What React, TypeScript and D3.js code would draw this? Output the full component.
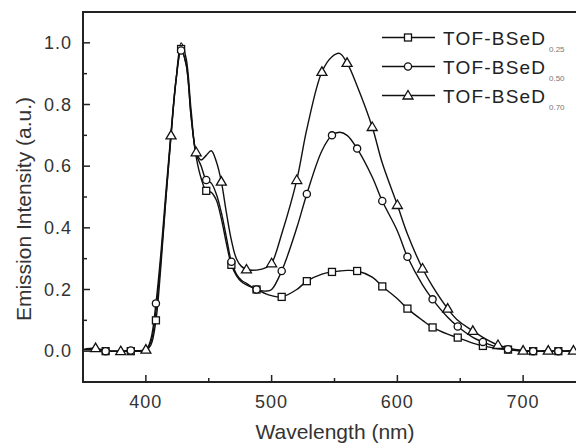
import * as d3 from "d3";

// wavelength grid (nm) shared by the three spectra
const wavelengths = [350, 360, 368, 380, 388, 400, 404, 408, 412, 416, 420, 424, 428, 432, 436, 440, 444, 448, 452, 456, 460, 464, 468, 472, 476, 480, 488, 496, 500, 508, 520, 528, 540, 548, 554, 560, 568, 580, 588, 600, 608, 620, 628, 640, 648, 660, 668, 680, 688, 700, 708, 720, 728, 740, 748, 755];

const s025 = [0.005, 0.005, 0, 0, 0, 0.002, 0.02, 0.10, 0.28, 0.50, 0.70, 0.88, 0.98, 0.93, 0.76, 0.63, 0.56, 0.52, 0.515, 0.49, 0.43, 0.35, 0.28, 0.245, 0.225, 0.215, 0.20, 0.185, 0.18, 0.176, 0.20, 0.227, 0.25, 0.257, 0.26, 0.262, 0.26, 0.24, 0.21, 0.17, 0.138, 0.10, 0.077, 0.055, 0.044, 0.026, 0.017, 0.008, 0.005, 0, 0, 0, 0, 0, 0, 0];
const s050 = [0.005, 0.005, 0, 0, 0.002, 0.005, 0.04, 0.155, 0.32, 0.52, 0.71, 0.88, 0.975, 0.93, 0.76, 0.64, 0.60, 0.555, 0.545, 0.51, 0.45, 0.37, 0.29, 0.25, 0.23, 0.22, 0.20, 0.195, 0.20, 0.26, 0.40, 0.51, 0.65, 0.70, 0.71, 0.70, 0.657, 0.565, 0.487, 0.39, 0.306, 0.215, 0.168, 0.11, 0.08, 0.045, 0.03, 0.012, 0.006, 0.002, 0, 0, 0, 0, 0, 0];
const s070 = [0.005, 0.01, 0.002, 0, 0, 0.005, 0.03, 0.13, 0.30, 0.50, 0.70, 0.88, 1.0, 0.95, 0.78, 0.645, 0.62, 0.635, 0.65, 0.615, 0.55, 0.45, 0.36, 0.30, 0.275, 0.265, 0.263, 0.272, 0.285, 0.38, 0.555, 0.72, 0.906, 0.955, 0.966, 0.935, 0.86, 0.727, 0.61, 0.474, 0.38, 0.268, 0.21, 0.138, 0.10, 0.066, 0.045, 0.02, 0.01, 0.002, 0, 0.002, 0, 0.002, 0, 0];

// wavelengths where the symbols sit
const marks025 = [368, 388, 408, 428, 448, 468, 488, 508, 528, 548, 568, 588, 608, 628, 648, 668, 688, 708, 728, 748];
const marks050 = [368, 388, 408, 428, 448, 468, 488, 508, 528, 548, 568, 588, 608, 628, 648, 668, 688, 708, 728, 748];
const marks070 = [360, 380, 400, 420, 440, 460, 480, 500, 520, 540, 560, 580, 600, 620, 640, 660, 680, 700, 720, 740];

const xTicks = [400, 500, 600, 700];
const xMinor = [450, 550, 650, 750];
const yTicks = [0, 0.2, 0.4, 0.6, 0.8, 1.0];
const yMinor = [0.1, 0.3, 0.5, 0.7, 0.9];

const seriesNames = ["TOF-BSeD", "TOF-BSeD", "TOF-BSeD"];
const seriesSubs = ["0.25", "0.50", "0.70"];

const W = 576;
const H = 446;
const plot = { left: 83, top: 12, right: 586, bottom: 382 };

const x = d3.scaleLinear().domain([350, 750]).range([plot.left, plot.right]);
const y = d3.scaleLinear().domain([-0.1, 1.1]).range([plot.bottom, plot.top]);

const line = d3
  .line<[number, number]>()
  .x(d => x(d[0]))
  .y(d => y(d[1]))
  .curve(d3.curveCatmullRom.alpha(0.5));

const series = [
  { vals: s025, marks: marks025, shape: "square" },
  { vals: s050, marks: marks050, shape: "circle" },
  { vals: s070, marks: marks070, shape: "triangle" }
];

const Marker = ({ shape, cx, cy }: { shape: string; cx: number; cy: number }) => {
  if (shape === "square") {
    return <rect x={cx - 3.5} y={cy - 3.5} width={7} height={7} fill="#fff" stroke="#111" strokeWidth={1.3} />;
  }
  if (shape === "circle") {
    return <circle cx={cx} cy={cy} r={3.6} fill="#fff" stroke="#111" strokeWidth={1.3} />;
  }
  return <path d={`M${cx},${cy - 5}L${cx + 5},${cy + 3.5}L${cx - 5},${cy + 3.5}Z`} fill="#fff" stroke="#111" strokeWidth={1.3} />;
};

const App = () => {
  const font = "'Liberation Sans', Arial, sans-serif";
  return (
    <svg width={W} height={H} style={{ position: "absolute", left: 0, top: 0, background: "#fff" }} fontFamily={font}>
      <defs>
        <clipPath id="plotclip">
          <rect x={plot.left} y={plot.top} width={plot.right - plot.left} height={plot.bottom - plot.top} />
        </clipPath>
      </defs>

      {/* spectra */}
      <g clipPath="url(#plotclip)">
        {series.map((s, i) => {
          const pts = wavelengths.map((w, j) => [w, s.vals[j]] as [number, number]);
          return <path key={i} d={line(pts) || ""} fill="none" stroke="#111" strokeWidth={1.4} />;
        })}
        {series.map((s, i) =>
          s.marks.map(m => {
            const j = wavelengths.indexOf(m);
            return <Marker key={`${i}-${m}`} shape={s.shape} cx={x(m)} cy={y(s.vals[j])} />;
          })
        )}
      </g>

      {/* frame */}
      <path
        d={`M${plot.right},${plot.top}H${plot.left}V${plot.bottom}H${plot.right}`}
        fill="none"
        stroke="#222"
        strokeWidth={2}
      />

      {/* x ticks */}
      {xTicks.map(t => (
        <g key={t}>
          <line x1={x(t)} x2={x(t)} y1={plot.bottom} y2={plot.bottom - 7} stroke="#222" strokeWidth={1.5} />
          <text x={x(t)} y={408} textAnchor="middle" fontSize={18} letterSpacing={1} fill="#333">
            {t}
          </text>
        </g>
      ))}
      {xMinor.map(t => (
        <line key={t} x1={x(t)} x2={x(t)} y1={plot.bottom} y2={plot.bottom - 4} stroke="#222" strokeWidth={1.5} />
      ))}

      {/* y ticks */}
      {yTicks.map(t => (
        <g key={t}>
          <line x1={plot.left} x2={plot.left + 7} y1={y(t)} y2={y(t)} stroke="#222" strokeWidth={1.5} />
          <text x={72} y={y(t) + 6} textAnchor="end" fontSize={18} letterSpacing={1} fill="#333">
            {d3.format(".1f")(t)}
          </text>
        </g>
      ))}
      {yMinor.map(t => (
        <line key={t} x1={plot.left} x2={plot.left + 4} y1={y(t)} y2={y(t)} stroke="#222" strokeWidth={1.5} />
      ))}

      {/* axis titles */}
      <text x={335} y={439} textAnchor="middle" fontSize={21} fill="#333">
        Wavelength (nm)
      </text>
      <text transform="translate(31,209) rotate(-90)" textAnchor="middle" fontSize={21} fill="#333">
        Emission Intensity (a.u.)
      </text>

      {/* legend */}
      {series.map((s, i) => {
        const ly = 37.5 + i * 29;
        return (
          <g key={i}>
            <line x1={382} x2={435} y1={ly} y2={ly} stroke="#111" strokeWidth={1.4} />
            <Marker shape={s.shape} cx={408} cy={ly} />
            <text x={443} y={ly + 7} fontSize={19} letterSpacing={1.2} fill="#222">
              {seriesNames[i]}
            </text>
            <text x={549} y={ly + 14} fontSize={8} fill="#777">
              {seriesSubs[i]}
            </text>
          </g>
        );
      })}
    </svg>
  );
};

export default App;
